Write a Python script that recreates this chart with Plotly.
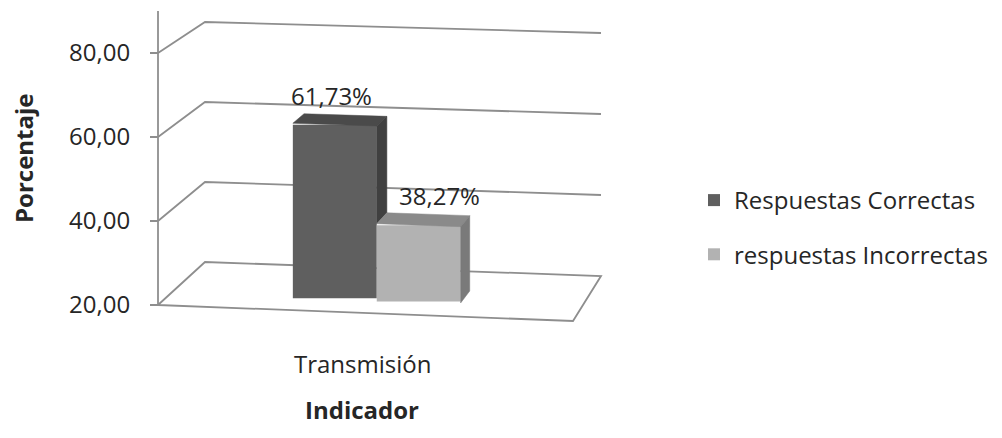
import plotly.graph_objects as go

# ---- data ----
categories = ["Transmisión"]
series_names = ["Respuestas Correctas", "respuestas Incorrectas"]
values = [61.73, 38.27]
value_labels = ["61,73%", "38,27%"]
tick_vals = [20, 40, 60, 80]
tick_text = ["20,00", "40,00", "60,00", "80,00"]

# ---- styling ----
front_colors = ["#5f5f5f", "#b2b2b2"]
top_colors = ["#4a4a4a", "#8a8a8a"]
side_colors = ["#404040", "#7a7a7a"]
label_xshift = [-9, 16]
grid_color = "#8e8e8e"
text_color = "#262626"
FONT = "Open Sans"
FS = 24

W, H = 1002, 438

# ---- simple perspective box (screen pixels) ----
V_MIN, V_AXIS_TOP = 20, 90
FL, FR, BL, BR = (158, 305), (573, 321), (205, 262), (601, 276)
S_FL, S_FR, S_BL, S_BR = 4.2, 4.25, 4.0, 4.05
BAR_D0, BAR_D1 = 0.30, 0.57
GROUP_W = 0.41


def proj(u, d, v):
    """Map (across, depth, value) to screen pixel coordinates."""
    w = [(1 - u) * (1 - d), u * (1 - d), (1 - u) * d, u * d]
    x = w[0] * FL[0] + w[1] * FR[0] + w[2] * BL[0] + w[3] * BR[0]
    yb = w[0] * FL[1] + w[1] * FR[1] + w[2] * BL[1] + w[3] * BR[1]
    s = w[0] * S_FL + w[1] * S_FR + w[2] * S_BL + w[3] * S_BR
    return x, yb - (v - V_MIN) * s


def poly(points, color):
    xs = [p[0] for p in points] + [points[0][0]]
    ys = [p[1] for p in points] + [points[0][1]]
    return go.Scatter(x=xs, y=ys, mode="lines", fill="toself", fillcolor=color,
                      line=dict(color=color, width=0.5), hoverinfo="skip",
                      showlegend=False)


def wall_line(pts):
    path = "M " + " L ".join(f"{x:.2f},{y:.2f}" for x, y in pts)
    return dict(type="path", path=path, xref="x", yref="y", layer="below",
                line=dict(color=grid_color, width=1.8))


fig = go.Figure()
shapes = []

# walls: gridlines on side and back wall, floor outline, value axis line
for v in tick_vals[1:]:
    shapes.append(wall_line([proj(0, 0, v), proj(0, 1, v), proj(1, 1, v)]))
shapes.append(wall_line([proj(0, 0, V_MIN), proj(0, 1, V_MIN), proj(1, 1, V_MIN),
                         proj(1, 0, V_MIN), proj(0, 0, V_MIN)]))
shapes.append(wall_line([proj(0, 0, V_MIN), proj(0, 0, V_AXIS_TOP)]))

# bars
n = len(values)
bw = GROUP_W / n
u_start = 0.5 - GROUP_W / 2
for i, (name, val) in enumerate(zip(series_names, values)):
    u0, u1 = u_start + i * bw, u_start + (i + 1) * bw
    # front face
    bl, br = proj(u0, BAR_D0, V_MIN), proj(u1, BAR_D0, V_MIN)
    tl, tr = proj(u0, BAR_D0, val), proj(u1, BAR_D0, val)
    base = (bl[1] + br[1]) / 2
    top = (tl[1] + tr[1]) / 2
    fig.add_trace(go.Bar(x=[(bl[0] + br[0]) / 2], y=[top - base], base=[base],
                         width=[br[0] - bl[0]],
                         marker=dict(color=front_colors[i], line=dict(width=0)),
                         name=name, legendgroup=name, hoverinfo="skip"))
    # top face
    fig.add_trace(poly([proj(u0, BAR_D0, val), proj(u1, BAR_D0, val),
                        proj(u1, BAR_D1, val), proj(u0, BAR_D1, val)], top_colors[i]))
    # right face: only the part rising above the neighbouring bar is visible
    v_low = values[i + 1] if i + 1 < n else V_MIN
    if val > v_low:
        fig.add_trace(poly([proj(u1, BAR_D0, v_low), proj(u1, BAR_D1, v_low),
                            proj(u1, BAR_D1, val), proj(u1, BAR_D0, val)], side_colors[i]))
    # value label above the top face
    lx, ly = proj((u0 + u1) / 2, (BAR_D0 + BAR_D1) / 2, val)
    fig.add_annotation(x=lx, y=ly, text=value_labels[i], showarrow=False,
                       yshift=24, xshift=label_xshift[i],
                       font=dict(family=FONT, size=FS, color=text_color))

# category label and axis titles
cx, cy = proj(0.5, 0, V_MIN)
fig.add_annotation(x=cx - 3, y=cy, text=categories[0], showarrow=False, yshift=-50,
                   font=dict(family=FONT, size=FS, color=text_color))
fig.add_annotation(x=cx - 4, y=cy, text="<b>Indicador</b>", showarrow=False, yshift=-96,
                   font=dict(family=FONT, size=FS, color=text_color))
fig.add_annotation(x=23, y=158, text="<b>Porcentaje</b>", showarrow=False, textangle=-90,
                   font=dict(family=FONT, size=FS, color=text_color))

fig.update_layout(
    width=W, height=H,
    margin=dict(l=0, r=0, t=0, b=0),
    paper_bgcolor="white", plot_bgcolor="white",
    barmode="overlay",
    shapes=shapes,
    font=dict(family=FONT, size=FS, color=text_color),
    xaxis=dict(range=[0, W], visible=False, fixedrange=True),
    yaxis=dict(range=[H, 0], anchor="free", position=FL[0] / W,
               tickvals=[proj(0, 0, v)[1] for v in tick_vals], ticktext=tick_text,
               ticks="outside", ticklen=8, tickcolor=grid_color, tickwidth=1.8,
               ticklabelstandoff=15,
               showgrid=False, zeroline=False, showline=False,
               tickfont=dict(family=FONT, size=FS, color=text_color)),
    legend=dict(x=694 / W, xanchor="left", y=1 - 178 / H, yanchor="top",
                tracegroupgap=20, bgcolor="rgba(0,0,0,0)",
                font=dict(family=FONT, size=FS, color=text_color)),
    showlegend=True,
)

fig.write_html("out.html")
